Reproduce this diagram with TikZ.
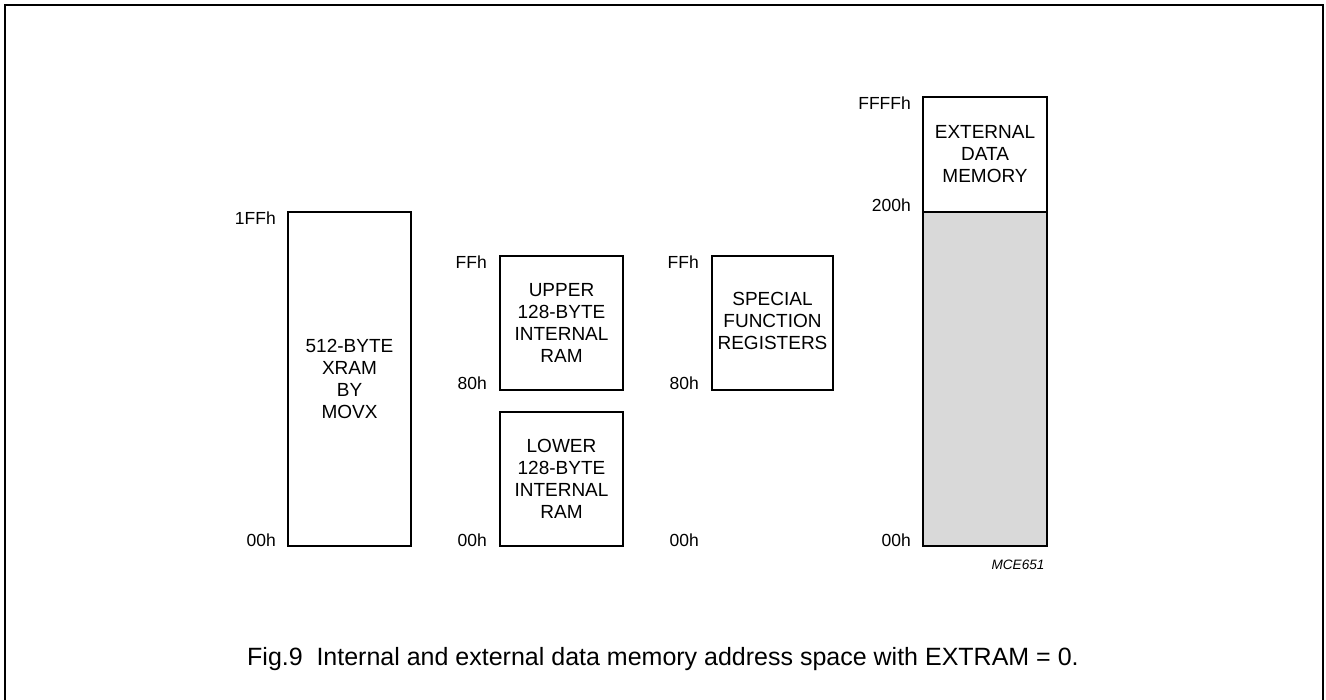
\documentclass[tikz,border=0pt]{standalone}
\usepackage{fontspec}
\setmainfont{Liberation Sans}
\definecolor{fillgray}{RGB}{217,217,217}
\begin{document}
\begin{tikzpicture}[x=1pt,y=-1pt,
  membox/.style={draw=black,line width=2pt,inner sep=0pt},
  boxtext/.style={align=center,font=\fontsize{19}{22}\selectfont,inner sep=0pt},
  addr/.style={anchor=base east,font=\fontsize{17.5}{20}\selectfont,inner sep=0pt},
]
\useasboundingbox (0,0) rectangle (1326,700);
% frame
\draw[line width=2pt] (4.5,701) -- (4.5,5.5) -- (1323,5.5) -- (1323,701);

% XRAM
\draw[membox] (288,212) rectangle (411,546);
\node[boxtext] (xram) at (349.5,379) {512-BYTE\\XRAM\\BY\\MOVX};
\node[addr] (a1) at (276,225) {1FFh};
\node[addr] (a2) at (276,546) {00h};

% upper / lower internal RAM
\draw[membox] (500,256) rectangle (623,390);
\node[boxtext] (upper) at (561.5,323) {UPPER\\128-BYTE\\INTERNAL\\RAM};
\draw[membox] (500,412) rectangle (623,546);
\node[boxtext] (lower) at (561.5,479) {LOWER\\128-BYTE\\INTERNAL\\RAM};
\node[addr] (b1) at (487,268.5) {FFh};
\node[addr] (b2) at (487,390) {80h};
\node[addr] (b3) at (487,546) {00h};

% SFR
\draw[membox] (712,256) rectangle (833,390);
\node[boxtext] (sfr) at (772.5,321) {SPECIAL\\FUNCTION\\REGISTERS};
\node[addr] (c1) at (699,268.5) {FFh};
\node[addr] (c2) at (699,390) {80h};
\node[addr] (c3) at (699,546) {00h};

% external
\draw[membox,fill=fillgray] (923,212) rectangle (1047,546);
\draw[membox,fill=white] (923,97) rectangle (1047,212);
\node[boxtext] (ext) at (985,154) {EXTERNAL\\DATA\\MEMORY};
\node[addr] (d1) at (911,109.5) {FFFFh};
\node[addr] (d2) at (911,212) {200h};
\node[addr] (d3) at (911,546) {00h};

\node[font=\fontsize{13.6}{16}\selectfont\itshape,inner sep=0pt] (code) at (1018,565) {MCE651};

\node[anchor=base west,font=\fontsize{25}{30}\selectfont,inner sep=0pt] (cap) at (247,665)
  {Fig.9\hspace{0.55em}Internal and external data memory address space with EXTRAM = 0.};
\end{tikzpicture}
\end{document}
